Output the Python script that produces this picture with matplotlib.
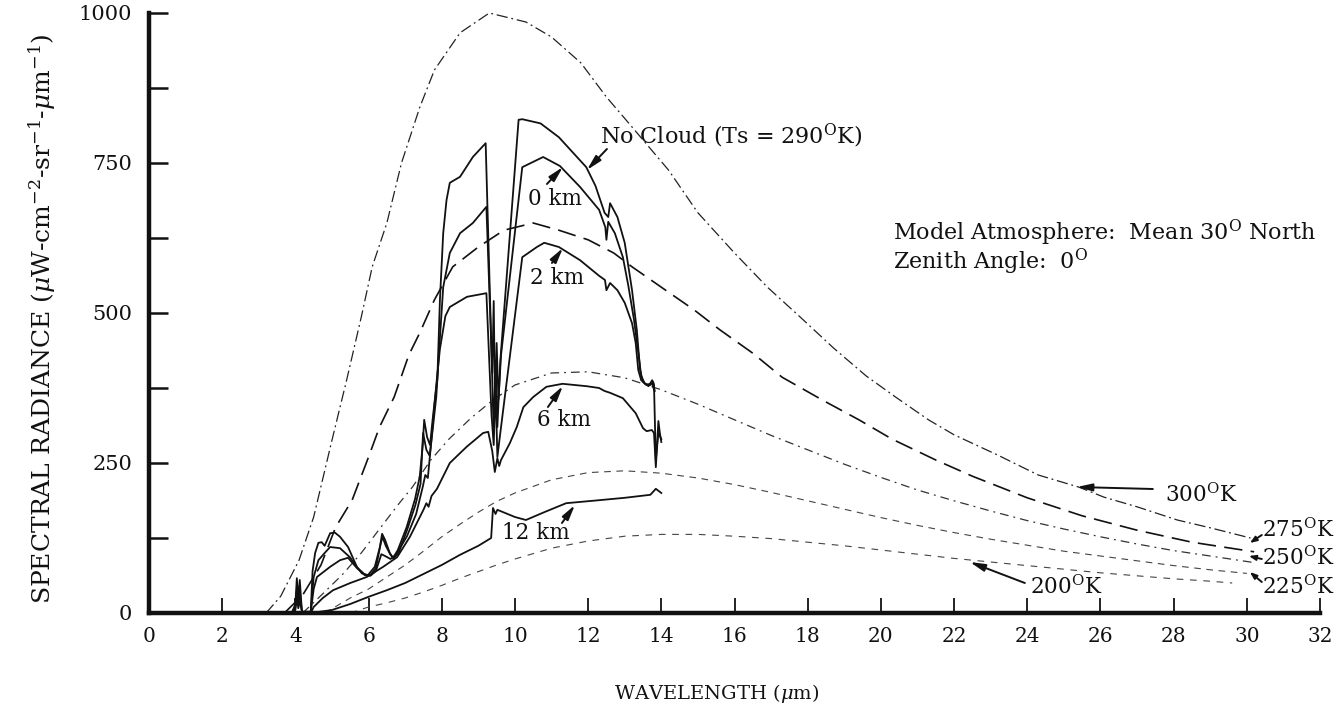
import matplotlib
matplotlib.use("Agg")
import matplotlib.pyplot as plt

plt.rcParams['font.family'] = ['DejaVu Serif']
plt.rcParams['mathtext.fontset'] = 'dejavuserif'

# ---------------- data ----------------
# Blackbody reference curves
w300 = [3.2, 3.6, 4.1, 4.5, 5.0, 5.4, 5.8, 6.1, 6.5, 6.9, 7.4, 7.8, 8.5, 9.3, 10.3, 11.0, 11.8, 12.5,
        13.2, 14.2, 15.0, 16.0, 16.9, 17.8, 18.7, 19.6, 20.4, 21.3, 22.0, 23.2, 24.3, 25.4, 26.1,
        27.0, 28.1, 29.0, 30.1]
r300 = [0, 28, 88, 160, 288, 388, 493, 577, 650, 750, 843, 905, 967, 1000, 985, 960, 917, 860,
        810, 738, 667, 600, 543, 493, 442, 395, 360, 322, 297, 263, 230, 210, 193,
        177, 155, 142, 125]

w275 = [3.7, 4.2, 4.7, 5.1, 5.55, 6.0, 6.3, 6.7, 7.1, 7.4, 7.8, 8.3, 9.0, 9.7, 10.5, 11.2, 12.0,
        12.7, 13.2, 14.0, 14.9, 15.6, 16.5, 17.3, 18.4, 19.4, 20.3, 21.5, 22.5, 24.0, 25.5, 27.0,
        28.5, 30.2]
r275 = [0, 30, 80, 143, 188, 260, 310, 360, 430, 467, 522, 577, 610, 638, 650, 638, 622,
        600, 577, 543, 505, 472, 433, 393, 355, 322, 290, 255, 228, 192, 162, 138,
        118, 102]

w250 = [4.2, 4.8, 5.3, 5.8, 6.3, 6.8, 7.2, 7.7, 8.2, 8.8, 9.4, 10.0, 11.0, 12.0, 13.0, 14.0, 15.0,
        16.0, 17.0, 18.0, 19.0, 20.0, 21.0, 22.0, 23.0, 24.0, 25.0, 26.0, 27.0, 28.0, 29.0, 30.2]
r250 = [0, 35, 65, 100, 140, 180, 210, 255, 290, 325, 355, 380, 400, 402, 392, 372, 348,
        322, 296, 272, 248, 226, 205, 187, 170, 154, 140, 127, 115, 104, 95, 84]

w225 = [4.8, 5.5, 6.0, 6.5, 7.0, 7.5, 8.0, 8.5, 9.0, 9.5, 10.0, 11.0, 12.0, 13.0, 14.0, 15.0, 16.0,
        17.0, 18.0, 19.0, 20.0, 21.0, 22.0, 23.0, 24.0, 25.0, 26.0, 27.0, 28.0, 29.0, 30.0]
r225 = [0, 25, 40, 60, 80, 103, 127, 148, 168, 186, 200, 222, 234, 237, 233, 225, 214,
        201, 187, 173, 159, 146, 134, 123, 113, 103, 95, 87, 79, 72, 66]

w200 = [5.5, 6.0, 6.5, 7.0, 7.5, 8.0, 8.5, 9.0, 9.5, 10.0, 11.0, 12.0, 13.0, 14.0, 15.0, 16.0, 17.0,
        18.0, 19.0, 20.0, 21.0, 22.0, 23.0, 24.0, 25.0, 26.0, 27.0, 28.0, 29.0, 29.6]
r200 = [0, 10, 17, 25, 35, 46, 58, 69, 80, 90, 108, 120, 128, 131, 131, 128, 124,
        118, 112, 105, 98, 91, 85, 79, 73, 67, 62, 57, 53, 50]

# Computed spectra
nc_w = [3.9, 4.0, 4.04, 4.08, 4.12, 4.18, 4.42, 4.47, 4.54, 4.63, 4.72, 4.8, 4.95, 5.08, 5.22, 5.44,
        5.68, 5.82, 5.98, 6.17, 6.31, 6.37, 6.45, 6.58, 6.67, 6.8, 7.04, 7.27, 7.4, 7.48, 7.52, 7.6,
        7.68, 7.75, 7.81, 7.88, 7.95, 8.04, 8.13, 8.22, 8.5, 8.85, 9.2, 9.33, 9.42, 9.47, 9.52, 9.6,
        10.1, 10.2, 10.7, 11.2, 11.95, 12.2, 12.45, 12.55, 12.6, 12.8, 13.0, 13.2, 13.33, 13.42,
        13.5, 13.65, 13.75, 13.8, 13.85, 13.92, 14.0]
nc_r = [0, 15, 58, 22, 55, 2, 2, 70, 100, 117, 118, 112, 133, 134, 127, 110,
        77, 66, 63, 77, 110, 132, 122, 100, 92, 105, 143, 190, 228, 280, 322, 293,
        280, 322, 355, 390, 522, 633, 688, 717, 727, 760, 783, 500, 300, 420, 310, 420,
        822, 823, 816, 793, 743, 712, 667, 660, 683, 660, 617, 538, 472, 405,
        385, 378, 388, 380, 255, 300, 290]

k0_w = [3.9, 4.0, 4.04, 4.08, 4.12, 4.18, 4.42, 4.5, 4.63, 4.8, 4.95, 5.22, 5.49, 5.7, 5.9, 6.05,
        6.2, 6.33, 6.38, 6.47, 6.6, 6.68, 6.82, 7.05, 7.28, 7.42, 7.49, 7.58, 7.67, 7.76, 7.85,
        7.93, 8.04, 8.22, 8.5, 8.85, 9.22, 9.38, 9.42, 9.46, 9.5, 9.55, 9.62, 10.2, 10.77, 11.23,
        11.78, 12.3, 12.47, 12.5, 12.55, 12.73, 12.95, 13.1, 13.25, 13.38, 13.45, 13.55, 13.7,
        13.78, 13.82]
k0_r = [0, 10, 40, 15, 35, 2, 2, 60, 88, 100, 110, 108, 93, 75, 64, 63,
        75, 115, 127, 112, 97, 91, 100, 138, 180, 215, 300, 272, 262, 310, 360,
        440, 543, 600, 633, 650, 677, 400, 520, 330, 450, 355, 430, 743, 760, 745,
        710, 672, 643, 622, 652, 633, 593, 545, 490, 430, 395, 382, 380,
        385, 370]

k2_w = [3.9, 4.0, 4.04, 4.08, 4.12, 4.18, 4.42, 4.5, 4.59, 4.95, 5.22, 5.44, 5.68, 5.9, 6.05, 6.2,
        6.35, 6.45, 6.6, 6.75, 7.05, 7.3, 7.48, 7.55, 7.62, 7.72, 7.85, 7.95, 8.1, 8.22, 8.69,
        9.22, 9.36, 9.42, 9.47, 9.52, 9.6, 10.2, 10.6, 10.8, 11.2, 11.78, 12.3, 12.46, 12.5,
        12.6, 12.8, 13.0, 13.2, 13.3, 13.37, 13.45, 13.6, 13.75, 13.8]
k2_r = [0, 5, 25, 8, 20, 2, 2, 40, 60, 77, 88, 92, 75, 63, 62, 70,
        98, 95, 90, 97, 128, 165, 210, 230, 225, 290, 380, 440, 495, 510, 527,
        533, 330, 280, 380, 260, 300, 593, 610, 617, 610, 588, 562, 555, 538,
        550, 538, 517, 483, 450, 405, 388, 380, 383, 372]

k6_w = [4.42, 4.5, 4.75, 5.03, 5.5, 5.95, 6.4, 6.78, 7.13, 7.5, 7.58, 7.64, 7.72, 7.87, 8.22, 8.68,
        9.13, 9.27, 9.38, 9.45, 9.52, 9.57, 9.62, 9.86, 10.05, 10.23, 10.5, 10.86, 11.3, 11.96,
        12.3, 12.45, 12.6, 12.95, 13.3, 13.5, 13.6, 13.74, 13.8, 13.85, 13.92, 13.96, 14.0]
k6_r = [0, 10, 25, 38, 50, 60, 77, 93, 127, 172, 183, 177, 195, 207, 250, 277,
        300, 302, 270, 235, 258, 245, 255, 283, 310, 343, 360, 377, 382, 378,
        375, 370, 367, 358, 333, 308, 303, 305, 300, 243, 320, 300, 285]

k12_w = [4.42, 5.0, 5.5, 6.0, 6.5, 7.0, 7.5, 8.0, 8.5, 9.0, 9.35, 9.4, 9.47, 9.52, 9.6, 10.0, 10.3,
         10.8, 11.4, 12.3, 13.0, 13.7, 13.85, 14.0]
k12_r = [0, 5, 15, 27, 38, 50, 65, 80, 97, 112, 125, 175, 165, 172, 170, 160, 155,
         168, 183, 188, 192, 197, 207, 200]

xticks = list(range(0, 33, 2))
yticks_major = [0, 250, 500, 750, 1000]
yticks_minor = [125, 375, 625, 875]

# ---------------- figure ----------------
fig = plt.figure(figsize=(13.4, 7.09), dpi=100)
ax = fig.add_axes([149 / 1340, 96 / 709, 1171 / 1340, 600 / 709])

ink = '#111111'
bb_styles = [
    (w300, r300, (0, (9, 3, 1.5, 3)), 0.9, '#222222'),
    (w275, r275, (0, (11, 5)), 1.2, '#111111'),
    (w250, r250, (0, (7, 4, 1.5, 4)), 0.9, '#333333'),
    (w225, r225, (0, (6, 5)), 0.8, '#444444'),
    (w200, r200, (0, (6, 6)), 0.8, '#444444'),
]
for w, r, ls, lw, col in bb_styles:
    ax.plot(w, r, linestyle=ls, lw=lw, color=col, clip_on=False)

for w, r in [(nc_w, nc_r), (k0_w, k0_r), (k2_w, k2_r), (k6_w, k6_r), (k12_w, k12_r)]:
    ax.plot(w, r, color=ink, lw=1.3, clip_on=False, solid_joinstyle='round')

ax.set_xlim(0, 32)
ax.set_ylim(0, 1000)
ax.set_xticks(xticks)
ax.set_xticklabels([str(v) for v in xticks])
ax.set_yticks(yticks_major)
ax.set_yticklabels([str(v) for v in yticks_major])
ax.set_yticks(yticks_minor, minor=True)

for s in ['top', 'right']:
    ax.spines[s].set_visible(False)
for s in ['left', 'bottom']:
    ax.spines[s].set_linewidth(3.2)
    ax.spines[s].set_color(ink)

ax.tick_params(axis='x', which='major', direction='in', length=11, width=1.3,
               labelsize=14.5, pad=10, colors=ink)
ax.tick_params(axis='y', which='both', direction='in', length=14, width=1.8,
               labelsize=15, pad=12, colors=ink)

ax.set_xlabel(r'WAVELENGTH ($\mu$m)', fontsize=14, color=ink)
ax.xaxis.set_label_coords(0.485, -0.115)
ax.set_ylabel(r'SPECTRAL RADIANCE ($\mu$W-cm$^{-2}$-sr$^{-1}$-$\mu$m$^{-1}$)',
              fontsize=18, color=ink)
ax.yaxis.set_label_coords(-0.078, 0.491)

# ---------------- annotations ----------------
def px(xp, yp):
    return ((xp - 149) / 36.6, (613 - yp) / 0.6)

arrow_kw = dict(arrowstyle='-|>,head_length=0.9,head_width=0.22', lw=1.4, color=ink,
                shrinkA=0, shrinkB=0)

def label(txt, tx, ty, tail=None, tip=None, size=15.5, small=False):
    ax.text(*px(tx, ty), txt, fontsize=size, ha='left', va='center', color=ink)
    if tail is not None:
        kw = dict(arrow_kw)
        if small:
            kw['arrowstyle'] = '-|>,head_length=0.4,head_width=0.15'
        ax.annotate('', xy=px(*tip), xytext=px(*tail), arrowprops=kw,
                    annotation_clip=False)

label(r'No Cloud (Ts = 290$^{\rm O}$K)', 600, 136, (607, 149), (587, 170), size=16)
label('0 km', 528, 199, (547, 184), (563, 167))
label('2 km', 530, 278, (552, 263), (563, 248))
label('6 km', 537, 420, (548, 407), (563, 386))
label('12 km', 502, 533, (562, 523), (575, 505))
label(r'Model Atmosphere:  Mean 30$^{\rm O}$ North', 893, 233, size=16)
label(r'Zenith Angle:  0$^{\rm O}$', 893, 262, size=16)
label(r'300$^{\rm O}$K', 1165, 495, (1153, 489), (1077, 487))
label(r'275$^{\rm O}$K', 1262, 530, (1262, 535), (1250, 543), small=True)
label(r'250$^{\rm O}$K', 1262, 558, (1262, 559), (1249, 556), small=True)
label(r'225$^{\rm O}$K', 1262, 587, (1262, 582), (1250, 572), small=True)
label(r'200$^{\rm O}$K', 1030, 587, (1025, 583), (970, 562))

fig.savefig('out.png', dpi=100)
